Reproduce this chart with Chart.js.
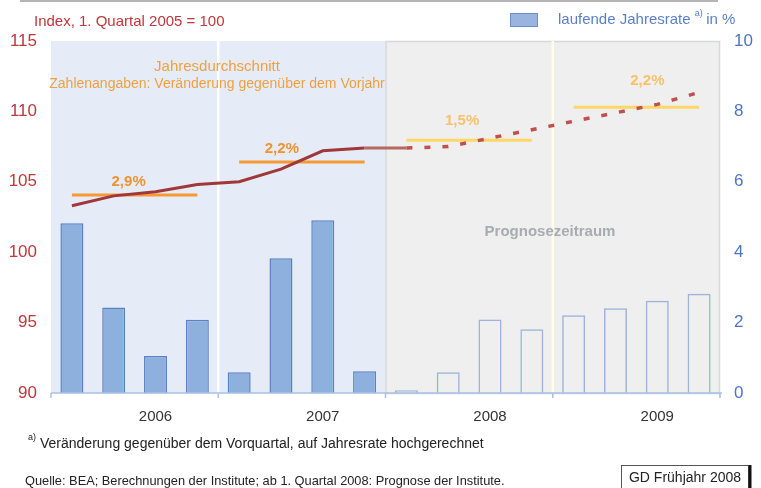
<!DOCTYPE html>
<html>
<head>
<meta charset="utf-8">
<script src="https://cdn.jsdelivr.net/npm/chart.js@4"></script>
<style>
  body { margin: 0; background: #fff; }
  #wrap { width: 761px; height: 488px; }
</style>
</head>
<body>
<div id="wrap"><canvas id="grafik" width="761" height="488"></canvas></div>
<script>
// Daten
const quartale = ['I/06', 'II/06', 'III/06', 'IV/06', 'I/07', 'II/07', 'III/07', 'IV/07',
                  'I/08', 'II/08', 'III/08', 'IV/08', 'I/09', 'II/09', 'III/09', 'IV/09'];
const jahre = ['2006', '2007', '2008', '2009'];
const ersterPrognoseQuartal = 8;

// laufende Jahresrate in % (rechte Achse)
const jahresrate = [4.82, 2.43, 1.05, 2.08, 0.59, 3.83, 4.91, 0.62,
                    0.08, 0.59, 2.09, 1.81, 2.21, 2.41, 2.62, 2.82];

// Index, 1. Quartal 2005 = 100 (linke Achse)
const indexIst = [103.3, 104.0, 104.3, 104.8, 105.0, 105.9, 107.2, 107.4, 107.4,
                  null, null, null, null, null, null, null];
const indexPrognose = [null, null, null, null, null, null, null, null,
                       107.4, 107.5, 108.1, 108.7, 109.3, 109.9, 110.5, 111.35];

// Jahresdurchschnitt und Veraenderung gegenueber Vorjahr
const jahresdurchschnitt = [104.06, 106.4, 107.95, 110.3];
const vorjahresrate = ['2,9%', '2,2%', '1,5%', '2,2%'];

const linkeTicks = [90, 95, 100, 105, 110, 115];
const rechteTicks = [0, 2, 4, 6, 8, 10];

// Farben
const ROT = '#c0363b';
const BLAU = '#4f74c2';
const ORANGE = '#f39a35';
const ORANGE_HELL = '#ffd766';
const SCHRIFT = 'Liberation Sans, Arial, sans-serif';

// Durchschnittslinien je Jahr als eigene Datensaetze
const durchschnittDatasets = jahresdurchschnitt.map((wert, j) => ({
    type: 'line',
    data: quartale.map((q, i) => (Math.floor(i / 4) === j ? wert : null)),
    yAxisID: 'y',
    borderColor: j < 2 ? ORANGE : ORANGE_HELL,
    borderWidth: 3,
    pointRadius: 0,
    spanGaps: false,
    order: 2
}));

// Hintergruende, Achsenlinie und Beschriftungen
const hintergrundPlugin = {
    id: 'hintergrund',
    beforeDatasetsDraw(chart) {
        const { ctx, chartArea: a } = chart;
        const breite = (a.right - a.left) / quartale.length;
        const grenze = j => a.left + j * 4 * breite;
        ctx.save();
        // Ist-Zeitraum
        ctx.fillStyle = '#e6ecf7';
        ctx.fillRect(a.left, a.top, grenze(2) - a.left, a.bottom - a.top);
        // Prognosezeitraum
        ctx.fillStyle = '#eeefee';
        ctx.fillRect(grenze(2), a.top, a.right - grenze(2), a.bottom - a.top);
        ctx.strokeStyle = '#d6d8da';
        ctx.lineWidth = 1.5;
        ctx.strokeRect(grenze(2) + 0.5, a.top + 0.5, a.right - grenze(2) - 1, a.bottom - a.top);
        // Trennlinien zwischen den Jahren
        ctx.lineWidth = 2.5;
        ctx.strokeStyle = '#ffffff';
        ctx.beginPath();
        ctx.moveTo(grenze(1), a.top);
        ctx.lineTo(grenze(1), a.bottom);
        ctx.stroke();
        ctx.strokeStyle = '#fffbea';
        ctx.beginPath();
        ctx.moveTo(grenze(3), a.top);
        ctx.lineTo(grenze(3), a.bottom);
        ctx.stroke();

        ctx.fillStyle = '#a9abae';
        ctx.font = 'bold 15px ' + SCHRIFT;
        ctx.textAlign = 'center';
        ctx.textBaseline = 'middle';
        ctx.fillText('Prognosezeitraum', 550, 232);
        ctx.restore();
    },
    afterDatasetsDraw(chart) {
        const { ctx, chartArea: a, scales: { y } } = chart;
        const breite = (a.right - a.left) / quartale.length;
        ctx.save();
        // x-Achse
        ctx.strokeStyle = '#a9c0e6';
        ctx.lineWidth = 1.5;
        ctx.beginPath();
        ctx.moveTo(a.left, a.bottom);
        ctx.lineTo(a.right + 2, a.bottom);
        for (let j = 0; j <= jahre.length; j++) {
            const xp = a.left + j * 4 * breite;
            ctx.moveTo(xp, a.bottom);
            ctx.lineTo(xp, a.bottom + 5);
        }
        ctx.stroke();

        // Jahreszahlen (wie im Original um ein halbes Quartal nach rechts versetzt)
        ctx.fillStyle = '#333';
        ctx.font = '15px ' + SCHRIFT;
        ctx.textAlign = 'center';
        ctx.textBaseline = 'middle';
        jahre.forEach((jahr, j) => {
            ctx.fillText(jahr, a.left + (j * 4 + 2.5) * breite, 417);
        });

        // Vorjahresraten ueber den Durchschnittslinien
        const versatzX = [-6, -20, -7, 11];
        const versatzY = [13, 13, 19, 26];
        ctx.font = 'bold 15px ' + SCHRIFT;
        vorjahresrate.forEach((txt, j) => {
            ctx.fillStyle = j < 2 ? '#f0932e' : '#fbc06a';
            const xm = a.left + (j * 4 + 2) * breite + versatzX[j];
            ctx.fillText(txt, xm, y.getPixelForValue(jahresdurchschnitt[j]) - versatzY[j]);
        });
        ctx.restore();
    },
    afterDraw(chart) {
        const { ctx } = chart;
        ctx.save();
        // Linie oben
        ctx.strokeStyle = '#b4b4b4';
        ctx.lineWidth = 2;
        ctx.beginPath();
        ctx.moveTo(20, 1);
        ctx.lineTo(718, 1);
        ctx.stroke();

        ctx.textBaseline = 'middle';
        ctx.font = '15px ' + SCHRIFT;
        ctx.fillStyle = ROT;
        ctx.textAlign = 'left';
        ctx.fillText('Index, 1. Quartal 2005 = 100', 34, 22);

        // Legende
        ctx.fillStyle = '#98b4df';
        ctx.fillRect(510, 13, 28, 14);
        ctx.strokeStyle = '#6a8ecf';
        ctx.lineWidth = 1;
        ctx.strokeRect(510.5, 13.5, 27, 13);
        ctx.fillStyle = '#5a7fc6';
        ctx.fillText('laufende Jahresrate', 558, 20);
        let xl = 558 + ctx.measureText('laufende Jahresrate ').width;
        ctx.font = '9px ' + SCHRIFT;
        ctx.fillText('a)', xl, 14);
        xl += ctx.measureText('a) ').width + 1;
        ctx.font = '15px ' + SCHRIFT;
        ctx.fillText('in %', xl, 20);

        // Erlaeuterung
        ctx.fillStyle = '#f0a040';
        ctx.textAlign = 'center';
        ctx.fillText('Jahresdurchschnitt', 217, 67);
        ctx.font = '14px ' + SCHRIFT;
        ctx.fillText('Zahlenangaben: Veränderung gegenüber dem Vorjahr', 217, 84);

        // Fussnoten
        ctx.fillStyle = '#222';
        ctx.textAlign = 'left';
        ctx.font = '9px ' + SCHRIFT;
        ctx.fillText('a)', 28, 438);
        ctx.font = '14px ' + SCHRIFT;
        ctx.fillText('Veränderung gegenüber dem Vorquartal, auf Jahresrate hochgerechnet', 40, 444);
        ctx.font = '12.8px ' + SCHRIFT;
        ctx.fillText('Quelle: BEA; Berechnungen der Institute; ab 1. Quartal 2008: Prognose der Institute.', 25, 481);

        // Kasten
        ctx.strokeStyle = '#555';
        ctx.lineWidth = 1;
        ctx.strokeRect(621.5, 465.5, 127, 30);
        ctx.strokeStyle = '#111';
        ctx.lineWidth = 3;
        ctx.beginPath();
        ctx.moveTo(750, 465);
        ctx.lineTo(750, 488);
        ctx.stroke();
        ctx.fillStyle = '#222';
        ctx.textAlign = 'center';
        ctx.font = '14px ' + SCHRIFT;
        ctx.fillText('GD Frühjahr 2008', 685, 478);
        ctx.restore();
    }
};

new Chart(document.getElementById('grafik'), {
    data: {
        labels: quartale,
        datasets: [
            {
                type: 'line',
                data: indexIst,
                yAxisID: 'y',
                borderColor: '#a0383a',
                borderWidth: 3,
                pointRadius: 0,
                tension: 0,
                segment: {
                    borderColor: c => (c.p0DataIndex >= ersterPrognoseQuartal - 1 ? '#b46a60' : undefined)
                },
                order: 1
            },
            {
                type: 'line',
                data: indexPrognose,
                yAxisID: 'y',
                borderColor: '#c0504d',
                borderWidth: 3.5,
                borderDash: [6, 12],
                pointRadius: 0,
                tension: 0,
                order: 1
            },
            ...durchschnittDatasets,
            {
                type: 'bar',
                data: jahresrate,
                yAxisID: 'y2',
                backgroundColor: jahresrate.map((v, i) => (i < ersterPrognoseQuartal ? '#8db0dc' : 'rgba(0,0,0,0)')),
                borderColor: jahresrate.map((v, i) => (i < ersterPrognoseQuartal ? '#5b80c6' : '#9db3d9')),
                borderWidth: 1.5,
                categoryPercentage: 1,
                barPercentage: 0.55,
                order: 3
            }
        ]
    },
    options: {
        responsive: false,
        animation: false,
        layout: { padding: { top: 41, bottom: 95, left: 0, right: 0 } },
        plugins: {
            legend: { display: false },
            tooltip: { enabled: false }
        },
        scales: {
            x: {
                display: false,
                offset: true
            },
            y: {
                position: 'left',
                min: 90,
                max: 115,
                afterBuildTicks: axis => { axis.ticks = linkeTicks.map(v => ({ value: v })); },
                afterFit: axis => { axis.width = 51; },
                grid: { display: false, drawTicks: false },
                border: { display: false },
                ticks: {
                    color: ROT,
                    padding: 14,
                    font: { size: 17, family: SCHRIFT }
                }
            },
            y2: {
                position: 'right',
                min: 0,
                max: 10,
                afterBuildTicks: axis => { axis.ticks = rechteTicks.map(v => ({ value: v })); },
                afterFit: axis => { axis.width = 41; },
                grid: { display: false, drawTicks: false },
                border: { display: false },
                ticks: {
                    color: BLAU,
                    padding: 14,
                    font: { size: 17, family: SCHRIFT }
                }
            }
        }
    },
    plugins: [hintergrundPlugin]
});
</script>
</body>
</html>
